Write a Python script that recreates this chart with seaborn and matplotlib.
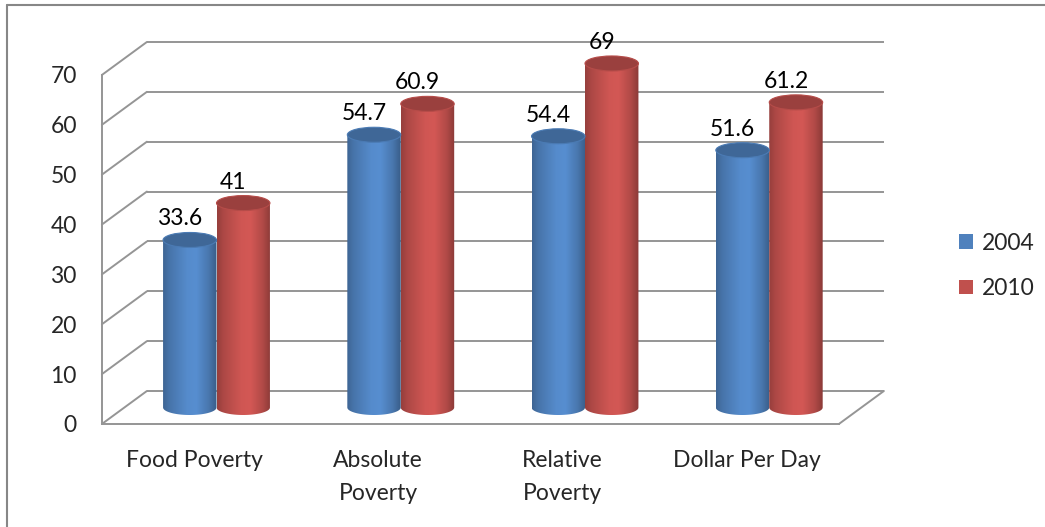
import numpy as np
import pandas as pd
import matplotlib
matplotlib.use("Agg")
import matplotlib.pyplot as plt
import seaborn as sns
from matplotlib.patches import Ellipse, PathPatch, Patch
from matplotlib.path import Path
from matplotlib.lines import Line2D
from matplotlib.colors import to_rgb

# ---- data -------------------------------------------------------------
categories = ["Food Poverty", "Absolute\nPoverty", "Relative\nPoverty", "Dollar Per Day"]
years = ["2004", "2010"]
values_2004 = [33.6, 54.7, 54.4, 51.6]
values_2010 = [41, 60.9, 69, 61.2]
y_ticks = [0, 10, 20, 30, 40, 50, 60, 70]
palette = {"2004": "#4F81BD", "2010": "#C0504D"}

df = pd.DataFrame({
    "category": categories * 2,
    "year": [years[0]] * len(categories) + [years[1]] * len(categories),
    "value": values_2004 + values_2010,
})

# ---- figure / pseudo-3D geometry --------------------------------------
sns.set_style("white")
plt.rcParams["font.family"] = ["Lato", "DejaVu Sans"]
FS = 16.5
GRID = "#959595"
LW = 1.4

W, H = 1045, 527
fig = plt.figure(figsize=(W / 100, H / 100), dpi=100)
ax = fig.add_axes([0, 0, 1, 1])

# pixel layout of the plot box (category 0 centre / value 0 at mid depth)
X0_PX, CAT_PX = 216.5, 184.25
Y0_PX, UNIT_PX = 407.5, 4.986
DX = 22.5 / CAT_PX   # half depth, in category units
DY = 16.5 / UNIT_PX  # half depth, in value units
ELL_H = 15.0 / UNIT_PX  # apparent height of a cylinder cap
ymax = y_ticks[-1]

# ---- bars (seaborn) ---------------------------------------------------
sns.barplot(data=df, x="category", y="value", hue="year", order=categories,
            hue_order=years, palette=palette, width=0.58, saturation=1,
            legend=False, ax=ax)

# back wall grid + left wall diagonals + floor
for v in y_ticks:
    ax.plot([-0.5 + DX, 3.5 + DX], [v + DY, v + DY], color=GRID, lw=LW, zorder=1,
            solid_capstyle="butt")
    ax.plot([-0.5 - DX, -0.5 + DX], [v - DY, v + DY], color=GRID, lw=LW, zorder=1)
ax.plot([3.5 - DX, 3.5 + DX], [-DY, DY], color=GRID, lw=LW, zorder=1)

# cylinder shading profile across the bar width
stops_t = [0.0, 0.12, 0.45, 0.62, 0.85, 1.0]
stops_f = [0.78, 0.90, 1.08, 1.10, 0.92, 0.72]
tt = np.linspace(0, 1, 256)
fac = np.interp(tt, stops_t, stops_f)

theta = np.linspace(np.pi, 2 * np.pi, 60)
for container, year in zip(ax.containers, years):
    base = np.array(to_rgb(palette[year]))
    grad = np.clip(base[None, None, :] * fac[None, :, None], 0, 1)
    top_col = np.clip(base * 0.80, 0, 1)
    rim_col = np.clip(base * 0.95, 0, 1)
    for rect, val in zip(container.patches, container.datavalues):
        x0, w = rect.get_x(), rect.get_width()
        xc = x0 + w / 2
        rect.set_visible(False)
        # body outline: straight sides + rounded bottom
        ex = xc + (w / 2) * np.cos(theta)
        ey = (ELL_H / 2) * np.sin(theta)
        verts = [(x0, val)] + list(zip(ex, ey)) + [(x0 + w, val), (x0, val)]
        codes = [Path.MOVETO] + [Path.LINETO] * (len(verts) - 2) + [Path.CLOSEPOLY]
        clip = PathPatch(Path(verts, codes), transform=ax.transData,
                         facecolor="none", edgecolor="none")
        ax.add_patch(clip)
        im = ax.imshow(grad, extent=[x0, x0 + w, -ELL_H / 2, val], aspect="auto",
                       interpolation="bilinear", zorder=3)
        im.set_clip_path(clip)
        ax.add_patch(Ellipse((xc, val), w, ELL_H, facecolor=top_col,
                             edgecolor=rim_col, lw=0.8, zorder=4))
        ax.text(xc - 0.054, val + ELL_H / 2 + 7 / UNIT_PX, f"{val:g}",
                ha="center", va="baseline", fontsize=FS, color="black", zorder=5)

# ---- axes: front-left value axis and front floor edge -----------------
ax.set_xlim(-X0_PX / CAT_PX, (W - X0_PX) / CAT_PX)
ax.set_ylim((Y0_PX - H) / UNIT_PX, Y0_PX / UNIT_PX)
ax.set_xlabel("")
ax.set_ylabel("")

for side in ["top", "right"]:
    ax.spines[side].set_visible(False)
ax.spines["left"].set_position(("data", -0.5 - DX))
ax.spines["left"].set_bounds(-DY, ymax - DY)
ax.spines["bottom"].set_position(("data", -DY))
ax.spines["bottom"].set_bounds(-0.5 - DX, 3.5 - DX)
for side in ["left", "bottom"]:
    ax.spines[side].set_color(GRID)
    ax.spines[side].set_linewidth(LW)
    ax.spines[side].set_zorder(2)

ax.set_yticks([v - DY for v in y_ticks])
ax.set_yticklabels([str(v) for v in y_ticks], fontsize=FS)
ax.tick_params(axis="y", direction="out", length=6, width=LW, color=GRID, pad=12)

ax.set_xticks([i - DX for i in range(len(categories))])
ax.set_xticklabels(categories, fontsize=FS, linespacing=1.68)
ax.set_xticks([i - 0.5 - DX for i in range(len(categories) + 1)], minor=True)
ax.tick_params(axis="x", which="major", length=0, pad=19)
ax.tick_params(axis="x", which="minor", direction="out", length=6, width=LW, color=GRID)

# ---- legend -----------------------------------------------------------
handles = [Patch(facecolor=palette[y], edgecolor="none", label=y) for y in years]
ax.legend(handles=handles, loc="center left", bbox_to_anchor=(938 / W, 1 - 266 / H),
          bbox_transform=fig.transFigure, frameon=False, fontsize=FS,
          handlelength=0.62, handleheight=0.62, handletextpad=0.4, labelspacing=1.05)

# ---- chart area border ------------------------------------------------
fig.add_artist(Line2D([7 / W, 7 / W], [0, 1 - 5 / H], transform=fig.transFigure,
                      color="#878787", lw=1.5))
fig.add_artist(Line2D([7 / W, 1], [1 - 5 / H, 1 - 5 / H], transform=fig.transFigure,
                      color="#878787", lw=1.5))

fig.savefig("out.png", dpi=100, facecolor="white")
